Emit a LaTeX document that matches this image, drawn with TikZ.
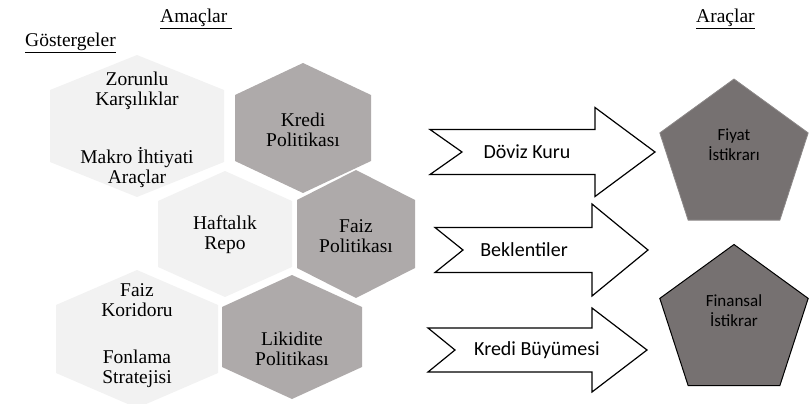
\documentclass[tikz,border=0pt]{standalone}
\usepackage{fontspec}
\setmainfont{Liberation Serif}
\newfontfamily\calibrifont{Carlito}
\usetikzlibrary{shapes.geometric}
\definecolor{hexLight}{HTML}{F2F2F2}
\definecolor{hexDark} {HTML}{AEAAAA}
\definecolor{goalFill}{HTML}{767171}
\definecolor{goalEdge}{HTML}{8C8888}
\tikzset{
  hexlabel/.style  = {align=center, inner sep=0pt, font=\fontsize{19.5}{20}\selectfont},
  heading/.style   = {inner sep=0pt, anchor=base west, font=\fontsize{19.5}{20}\selectfont},
  channel/.style   = {draw=black, fill=white, line width=1.2pt, line join=miter},
  chanlabel/.style = {inner sep=0pt, font=\calibrifont\fontsize{20}{22}\selectfont},
  goal/.style      = {regular polygon, regular polygon sides=5, minimum size=156pt,
                      fill=goalFill, inner sep=0pt, outer sep=0pt},
  goallabel/.style = {align=center, inner sep=0pt, font=\calibrifont\fontsize{17}{20}\selectfont},
}

\begin{document}
\begin{tikzpicture}[x=1pt, y=-1pt]
\useasboundingbox (0,0) rectangle (809,404);

% Headings
\node[heading] (amac)  at (160,23) {\underline{Amaçlar\ }};
\node[heading] (gost)  at (25,47)  {\underline{Göstergeler}};
\node[heading] (arac)  at (696,23) {\underline{Araçlar}};

% Hexagons: cx/cy/half width/half height/half side/colour
\foreach \cx/\cy/\w/\h/\s/\col in {137/126/87/71/36/hexLight,
                                   303/128/68/65/33/hexDark,
                                   225/234/67/63/33/hexLight,
                                   356/234/59/64/34/hexDark,
                                   137/339/81/69/34/hexLight,
                                   292/337/70/62/30/hexDark}
  \fill[\col] (\cx,\cy-\h) -- (\cx+\w,\cy-\s) -- (\cx+\w,\cy+\s)
     -- (\cx,\cy+\h) -- (\cx-\w,\cy+\s) -- (\cx-\w,\cy-\s) -- cycle;

% Hexagon texts
\node[hexlabel] (zorunlu)  at (137,91)  {Zorunlu\\Karşılıklar};
\node[hexlabel] (makro)    at (137,168) {Makro İhtiyati\\Araçlar};
\node[hexlabel] (kredi)    at (303,130) {Kredi\\Politikası};
\node[hexlabel] (haftalik) at (225,235) {Haftalık\\Repo};
\node[hexlabel] (faiz)     at (356,236) {Faiz\\Politikası};
\node[hexlabel] (koridor)  at (137,300) {Faiz\\Koridoru};
\node[hexlabel] (fonlama)  at (137,369) {Fonlama\\Stratejisi};
\node[hexlabel] (likidite) at (292,349) {Likidite\\Politikası};

% Notched arrows: tail/notch/head base/tip/cy/half shaft/half head
\foreach \tx/\nx/\bx/\px/\cy/\sh/\hh in {430/462/595/655/152/22.5/44.5,
                                        435/463/592/648/250/22.5/46,
                                        428/455/592/647/350/22/42}
  \draw[channel] (\tx,\cy-\sh) -- (\bx,\cy-\sh) -- (\bx,\cy-\hh) -- (\px,\cy)
     -- (\bx,\cy+\hh) -- (\bx,\cy+\sh) -- (\tx,\cy+\sh) -- (\nx,\cy) -- cycle;

\node[chanlabel] (doviz)    at (527,152) {Döviz Kuru};
\node[chanlabel] (beklenti) at (524,250) {Beklentiler};
\node[chanlabel] (buyume)   at (537,350) {Kredi Büyümesi};

% Goals
\node[goal, draw=goalEdge, line width=0.8pt] (fiyat)    at (734,157)   {};
\node[goal, draw=black,    line width=1pt]   (finansal) at (734,322.5) {};
\node[goallabel] (fiyatlbl)    at (734,145) {Fiyat\\İstikrarı};
\node[goallabel] (finansallbl) at (734,311) {Finansal\\İstikrar};

\end{tikzpicture}
\end{document}
